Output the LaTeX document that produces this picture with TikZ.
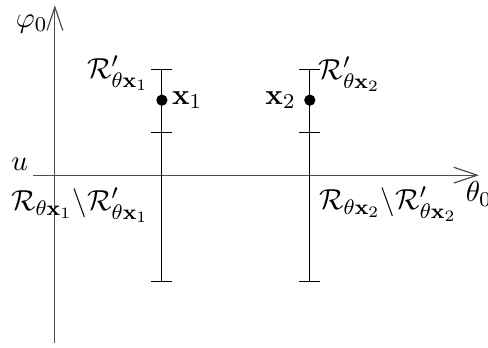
\documentclass[tikz,border=0pt]{standalone}
\usepackage{amsmath,amssymb}
\usepackage{tikz}
\usetikzlibrary{arrows.meta,positioning}
\tikzset{
  axisline/.style={draw=black!70,line width=0.45pt,-{Straight Barb[length=3.1mm,width=2.1mm]}},
  errbar/.style={draw=black,line width=0.45pt},
  ptdot/.style={circle,fill=black,inner sep=0pt,minimum size=1.5mm},
  lbl/.style={font=\fontsize{11.2}{13}\selectfont}
}

\begin{document}
\begin{tikzpicture}[x=1cm,y=1cm]
  \useasboundingbox (-0.73,-2.29) rectangle (5.76,2.33);
  % axes
  \coordinate (xstart) at (-0.29,0);
  \coordinate (xend) at (5.64,0);
  \coordinate (ystart) at (0,-2.23);
  \coordinate (yend) at (0,2.26);
  \draw[axisline] (xstart) -- (xend);
  \draw[axisline] (ystart) -- (yend);
  \node[lbl,below=-1pt of xend] (thetalbl) {$\theta_0$};
  \node[lbl] (philbl) at (-0.31,2.01) {$\varphi_0$};
  \node[lbl] (ulbl) at (-0.47,0.15) {$u$};
  % error bars
  \foreach \bx/\id in {1.423/1,3.39/2}{
    \coordinate (top\id) at (\bx,1.41);
    \coordinate (mid\id) at (\bx,0.572);
    \coordinate (bot\id) at (\bx,-1.41);
    \draw[errbar] (top\id) -- (bot\id);
    \foreach \c in {top,mid,bot}
      \draw[errbar] ([xshift=-1.4mm]\c\id) -- ([xshift=1.4mm]\c\id);
    \node[ptdot] (pt\id) at (\bx,0.998) {};
  }
  % labels
  \node[lbl,right=-2pt of pt1] (xone) {$\mathbf{x}_1$};
  \node[lbl,left=-0.5pt of pt2] (xtwo) {$\mathbf{x}_2$};
  \node[lbl] (rprimeone) at (0.838,1.357) {$\mathcal{R}'_{\theta\mathbf{x}_1}$};
  \node[lbl] (rprimetwo) at (3.92,1.343) {$\mathcal{R}'_{\theta\mathbf{x}_2}$};
  \node[lbl] (rdiffone) at (0.333,-0.40) {$\mathcal{R}_{\theta\mathbf{x}_1}\backslash\mathcal{R}'_{\theta\mathbf{x}_1}$};
  \node[lbl] (rdifftwo) at (4.43,-0.386) {$\mathcal{R}_{\theta\mathbf{x}_2}\backslash\mathcal{R}'_{\theta\mathbf{x}_2}$};
\end{tikzpicture}
\end{document}
